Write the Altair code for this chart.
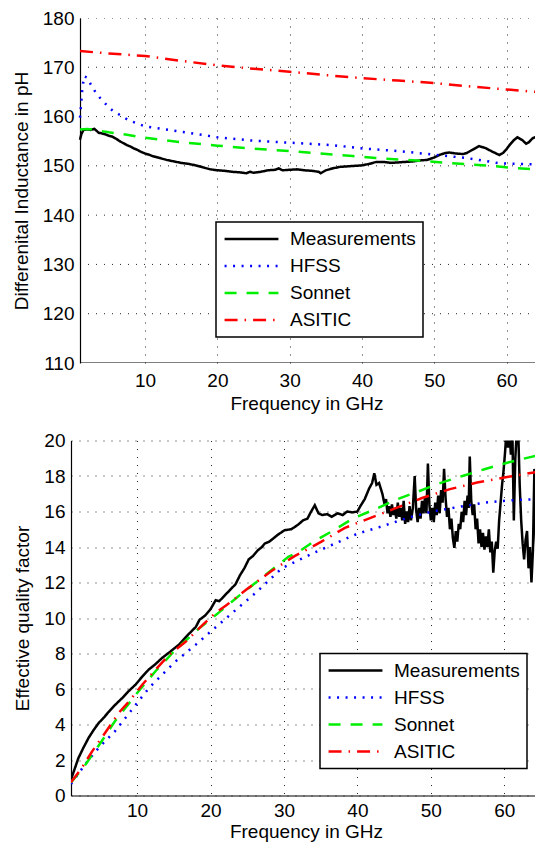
import altair as alt
import pandas as pd

SERIES = ["Measurements", "HFSS", "Sonnet", "ASITIC"]
COLORS = ["#000000", "#0000ff", "#00ee00", "#ff0000"]
DASHES = [[1, 0], [2, 6.5], [12, 10], [13, 7, 1.5, 7]]

# ---- top panel: differential inductance (pH) ----
top_meas_f = [1.0, 1.2, 1.5, 2.0, 2.5, 3.0, 3.3, 3.6, 4.0, 4.5, 5.0, 5.5, 6.0, 6.5, 7.0, 7.5, 8.0, 8.5, 9.0, 9.5,
              10.0, 10.5, 11, 12, 13, 14, 15, 16, 17, 18, 19, 20, 21, 22, 23, 24, 24.5, 25, 26, 27, 28, 28.5, 29,
              30, 31, 32, 33, 34, 34.3, 35, 36, 37, 38, 39, 40, 41, 42, 43, 44, 45, 46, 47, 48, 49, 50, 50.7,
              51.5, 52.1, 53, 54, 54.5, 55.2, 56.2, 57.1, 58, 59, 59.5, 60, 60.4, 61, 61.5, 62.2, 62.7, 63.1,
              63.6, 64.3, 65]
top_meas_v = [155.3, 156.5, 157.3, 157.4, 157.3, 157.5, 157.1, 156.7, 156.6, 156.4, 156.1, 155.9, 155.5, 155.0,
              154.6, 154.2, 153.9, 153.5, 153.2, 152.8, 152.5, 152.3, 152.0, 151.6, 151.2, 150.9, 150.6, 150.4,
              150.1, 149.7, 149.3, 149.1, 149.0, 148.8, 148.7, 148.5, 148.8, 148.6, 148.8, 149.1, 149.2, 149.5,
              149.1, 149.2, 149.3, 149.1, 149.0, 148.8, 148.5, 149.1, 149.5, 149.8, 149.9, 150.0, 150.1, 150.4,
              150.8, 150.8, 150.6, 150.7, 150.8, 150.9, 151.1, 151.2, 151.7, 152.2, 152.6, 152.7, 152.5, 152.4,
              152.6, 153.2, 154.0, 153.6, 152.9, 152.2, 152.6, 153.4, 154.2, 155.2, 155.8, 155.2, 154.5, 154.8,
              155.6, 156.0, 156.4]
top_hfss_f = [1.0, 1.1, 1.3, 1.56, 2.0, 2.5, 3.2, 4.1, 5.5, 7.8, 10.0, 14.7, 20, 25, 31.3, 35.9, 40.3, 45.1,
              49.8, 54.4, 57.1, 59, 61.3, 65]
top_hfss_v = [159.8, 161.5, 165.2, 168.2, 167.9, 166.5, 164.8, 163.2, 161.2, 159.2, 158.0, 157.0, 155.8, 155.1,
              154.6, 154.2, 153.5, 153.0, 152.3, 151.6, 151.0, 150.5, 150.4, 150.3]
top_sonnet_f = [1, 2, 3, 5, 7.5, 10, 15, 20, 25, 30, 35.9, 38.7, 41.9, 45.1, 48.4, 51.6, 54.8, 57.8, 60.8, 64, 65]
top_sonnet_v = [157.4, 157.5, 157.3, 156.8, 156.3, 155.7, 154.8, 154.1, 153.5, 153.0, 152.3, 152.0, 151.6,
                151.3, 151.0, 150.6, 150.3, 150.0, 149.6, 149.3, 149.2]
top_asitic_f = [1, 5, 10, 15, 20, 25, 30, 35, 40, 45, 50, 55, 60, 65]
top_asitic_v = [173.3, 172.8, 172.3, 171.3, 170.4, 169.7, 169.1, 168.4, 167.8, 167.3, 166.8, 166.1, 165.5, 164.9]

# ---- bottom panel: effective quality factor ----
bot_meas_f = [1.0, 1.5, 2.0, 2.7, 3.4, 4.1, 4.8, 5.5, 6.1, 7.0, 8.0, 8.9, 9.8, 10.7, 11.6, 12.5, 13.4, 14.5,
              15.7, 16.8, 18.0, 18.5, 19.3, 20.0, 20.7, 21.2, 22.0, 22.7, 23.4, 24.0, 24.6, 25.2, 25.8, 26.4,
              27.0, 27.4, 28.0, 28.6, 29.2, 30.1, 31.0, 31.9, 32.6, 33.2, 33.7, 34.2, 34.7, 35.2, 35.9, 36.5,
              37.3, 38.0, 38.6, 39.3, 40.0, 40.4, 41.0, 41.6, 42.0, 42.3, 42.6, 42.95,
              43.4, 43.7, 43.9, 44.1, 44.3, 44.5, 44.7, 44.9, 45.1, 45.3, 45.5, 45.7, 45.9, 46.1, 46.3, 46.5,
              46.7, 46.9, 47.1, 47.3, 47.55, 47.8, 48.0, 48.2, 48.4, 48.6, 48.8, 49.0, 49.2, 49.4, 49.6, 49.8,
              50.0, 50.2, 50.4, 50.6, 50.8, 51.0, 51.2, 51.4, 51.6, 51.8, 52.0, 52.2, 52.4, 52.6, 52.8, 53.0,
              53.2, 53.4, 53.6, 53.8, 54.0, 54.2, 54.4, 54.6, 54.8, 55.0, 55.15, 55.3, 55.5, 55.7, 55.9, 56.1,
              56.3, 56.5, 56.7, 56.9, 57.1, 57.3, 57.5, 57.7, 57.9, 58.1, 58.3, 58.5, 58.7, 58.9, 59.1, 59.3,
              59.5, 59.7, 59.9, 60.1, 60.3, 60.5, 60.7, 60.9, 61.1, 61.3, 61.5, 61.7, 61.9, 62.1, 62.3, 62.5,
              62.7, 62.9, 63.1, 63.3, 63.5, 63.7, 63.9, 64.1, 64.3, 64.5, 64.7, 64.85, 65.0]
bot_meas_v = [0.9, 1.5, 2.1, 2.7, 3.25, 3.7, 4.1, 4.4, 4.7, 5.1, 5.5, 5.9, 6.25, 6.7, 7.1, 7.4, 7.75, 8.1,
              8.5, 9.0, 9.5, 9.9, 10.15, 10.5, 11.0, 10.95, 11.3, 11.6, 11.9, 12.4, 12.8, 13.3, 13.5, 13.8,
              14.0, 14.2, 14.3, 14.5, 14.7, 14.95, 15.0, 15.25, 15.5, 15.6, 16.0, 16.35, 15.9, 15.8, 15.85, 15.7,
              15.9, 15.8, 16.0, 15.95, 16.0, 16.3, 16.7, 17.3, 17.6, 18.15, 17.5, 17.6,
              17.0, 16.4, 16.7, 15.9, 16.3, 15.7, 16.4, 15.8, 16.2, 15.6, 16.5, 15.7, 16.2, 15.5, 16.6, 15.3,
              16.0, 15.4, 16.3, 15.5, 16.2, 18.0, 16.1, 15.4, 16.2, 15.6, 16.6, 15.9, 16.8, 15.9, 18.7, 16.4,
              15.5, 16.2, 15.4, 16.5, 15.8, 16.9, 15.9, 17.2, 16.5, 18.4, 16.8, 15.7, 16.2, 15.0, 15.6, 14.5,
              13.95, 14.9, 14.3, 15.3, 15.0, 16.0, 15.4, 16.6, 15.8, 16.9, 16.2, 19.1, 16.6, 15.8, 16.4, 15.0,
              15.6, 14.2, 15.0, 14.0, 14.8, 13.85, 14.6, 14.0, 15.0, 13.7, 14.3, 12.55, 13.8, 14.3, 13.9, 15.5,
              16.5, 17.5, 18.3, 19.3, 20.5, 19.6, 20.5, 19.2, 20.5, 15.5, 19.0, 20.5, 20.5, 17.5, 15.5, 14.2,
              13.3, 14.4, 14.9, 12.8, 14.0, 12.0, 13.8, 18.4, 14.5, 12.6, 14.6, 13.5, 13.8]
bot_hfss_f = [1.0, 2.95, 4.8, 7.0, 9.3, 11.6, 13.4, 15.2, 18.0, 20.2, 23.0, 26.1, 29.7, 33.7, 36.7, 40.0, 43.4,
              46.8, 50.2, 53.8, 57.4, 60.8, 64.5, 65.0]
bot_hfss_v = [0.65, 1.77, 2.7, 3.63, 4.84, 6.05, 6.8, 7.54, 8.5, 9.3, 10.3, 11.4, 12.8, 13.6, 14.15, 14.75,
              15.17, 15.64, 16.0, 16.26, 16.5, 16.63, 16.7, 16.72]
bot_sonnet_f = [1.0, 2.7, 5.2, 7.0, 10.2, 12.5, 15.2, 18.4, 21.2, 23.9, 26.8, 30.6, 31.9, 34.2, 36.6, 39.55,
                42.5, 45.2, 48.3, 51.25, 54.3, 57.3, 60.4, 63.4, 65.0]
bot_sonnet_v = [0.74, 1.58, 3.07, 4.2, 5.87, 7.0, 8.2, 9.4, 10.33, 11.26, 12.2, 13.45, 13.7, 14.35, 14.9, 15.64,
                16.14, 16.66, 17.13, 17.6, 18.0, 18.38, 18.75, 19.05, 19.2]
bot_asitic_f = [1.0, 2.5, 3.9, 6.1, 7.5, 8.9, 10.7, 12.5, 14.3, 16.6, 18.9, 20.7, 22.1, 25.2, 28.3, 31.5, 35.1,
                38.3, 41.8, 45.3, 48.8, 52.6, 56.3, 60.2, 64.0, 65.0]
bot_asitic_v = [0.74, 1.58, 2.5, 3.8, 4.66, 5.3, 6.24, 7.08, 7.9, 8.66, 9.6, 10.3, 10.7, 11.7, 12.65, 13.5, 14.3,
                15.08, 15.64, 16.2, 16.76, 17.26, 17.63, 17.93, 18.2, 18.3]

x_ticks = [10, 20, 30, 40, 50, 60]
f_range = [1, 65]
top_y_ticks = [110, 120, 130, 140, 150, 160, 170, 180]
bot_y_ticks = [0, 2, 4, 6, 8, 10, 12, 14, 16, 18, 20]

# top panel sits 9 px to the right of the bottom one (as in the original figure)
TOP_SHIFT = 9
TOP_W, TOP_H = 471, 345
BOT_W, BOT_H = 470, 355
PX_PER_GHZ = (TOP_W - TOP_SHIFT) / (f_range[1] - f_range[0] - 0.1)
top_x_domain = [f_range[0] - TOP_SHIFT / PX_PER_GHZ, f_range[1] - 0.1]


def frame(pairs):
    rows = []
    for name, fs, vs in pairs:
        for f, v in zip(fs, vs):
            rows.append({"series": name, "f": f, "v": v})
    return pd.DataFrame(rows)


top_df = frame([("Measurements", top_meas_f, top_meas_v), ("HFSS", top_hfss_f, top_hfss_v),
                ("Sonnet", top_sonnet_f, top_sonnet_v), ("ASITIC", top_asitic_f, top_asitic_v)])
bot_df = frame([("Measurements", bot_meas_f, bot_meas_v), ("HFSS", bot_hfss_f, bot_hfss_v),
                ("Sonnet", bot_sonnet_f, bot_sonnet_v), ("ASITIC", bot_asitic_f, bot_asitic_v)])


def series_encoding(lx, ly):
    leg = alt.Legend(title=None, orient="none", legendX=lx, legendY=ly)
    return dict(
        color=alt.Color("series:N", scale=alt.Scale(domain=SERIES, range=COLORS), legend=leg),
        strokeDash=alt.StrokeDash("series:N", scale=alt.Scale(domain=SERIES, range=DASHES), legend=leg),
    )


# ---------- top panel ----------
top_xaxis = alt.Axis(values=x_ticks, title="Frequency in GHz", labelPadding=8, titlePadding=4, domain=False)
top_yaxis = alt.Axis(values=top_y_ticks, title="Differenital Inductance in pH", labelPadding=6,
                     titlePadding=11, grid=False, offset=-TOP_SHIFT)
top_x = alt.X("f:Q", scale=alt.Scale(domain=top_x_domain, nice=False, zero=False), axis=top_xaxis)
top_y = alt.Y("v:Q", scale=alt.Scale(domain=[110, 180], nice=False, zero=False), axis=top_yaxis)

top_grid_df = pd.DataFrame({"f": [f_range[0]] * (len(top_y_ticks) - 1),
                            "f2": [f_range[1]] * (len(top_y_ticks) - 1),
                            "v": top_y_ticks[1:]})
top_base_df = pd.DataFrame({"f": [f_range[0]], "f2": [f_range[1]], "v": [top_y_ticks[0]]})

top_grid = alt.Chart(top_grid_df).mark_rule(clip=True, color="#000000", opacity=0.85, strokeDash=[1, 7],
                                            strokeWidth=1).encode(x=top_x, x2="f2:Q", y=top_y)
top_base = alt.Chart(top_base_df).mark_rule(clip=True, color="black", strokeWidth=1.2).encode(
    x=top_x, x2="f2:Q", y=top_y)
top_lines = alt.Chart(top_df).mark_line(clip=True, strokeWidth=2.5, strokeCap="butt").encode(
    x=top_x, y=top_y, **series_encoding(145, 204))
top = alt.layer(top_grid, top_base, top_lines).properties(width=TOP_W, height=TOP_H)

# ---------- bottom panel ----------
bot_x = alt.X("f:Q", scale=alt.Scale(domain=f_range, nice=False, zero=False),
              axis=alt.Axis(values=x_ticks, title="Frequency in GHz", labelPadding=6, titlePadding=2))
bot_y = alt.Y("v:Q", scale=alt.Scale(domain=[0, 20], nice=False, zero=False),
              axis=alt.Axis(values=bot_y_ticks, title="Effective quality factor", labelPadding=6,
                            titlePadding=11))
bottom = alt.Chart(bot_df).mark_line(clip=True, strokeWidth=2.5, strokeCap="butt").encode(
    x=bot_x, y=bot_y, **series_encoding(249, 213)
).properties(width=BOT_W, height=BOT_H)

chart = alt.vconcat(top, bottom, spacing=18.5).resolve_scale(
    color="independent", strokeDash="independent", x="independent", y="independent"
).resolve_legend(color="independent", strokeDash="independent").properties(
    padding={"top": 1, "left": 4, "right": -7, "bottom": 0}
).configure_view(stroke=None).configure_axis(
    labelFont="Liberation Sans", titleFont="Liberation Sans", labelFontSize=19, titleFontSize=19,
    titleFontWeight="normal", labelColor="black", titleColor="black", domainColor="black",
    domainWidth=1.2, ticks=False, tickSize=0, grid=True, gridColor="#000000", gridDash=[1, 7],
    gridWidth=1, gridOpacity=0.85
).configure_legend(
    labelFont="Liberation Sans", labelFontSize=19, labelColor="black", symbolType="stroke",
    symbolSize=2900, symbolStrokeWidth=2.5, strokeColor="black", strokeWidth=1.5, fillColor="white",
    padding=7, rowPadding=7, labelOffset=10, cornerRadius=0, clipHeight=20
)

chart.save("out.html", embed_options={"renderer": "svg", "actions": False})
